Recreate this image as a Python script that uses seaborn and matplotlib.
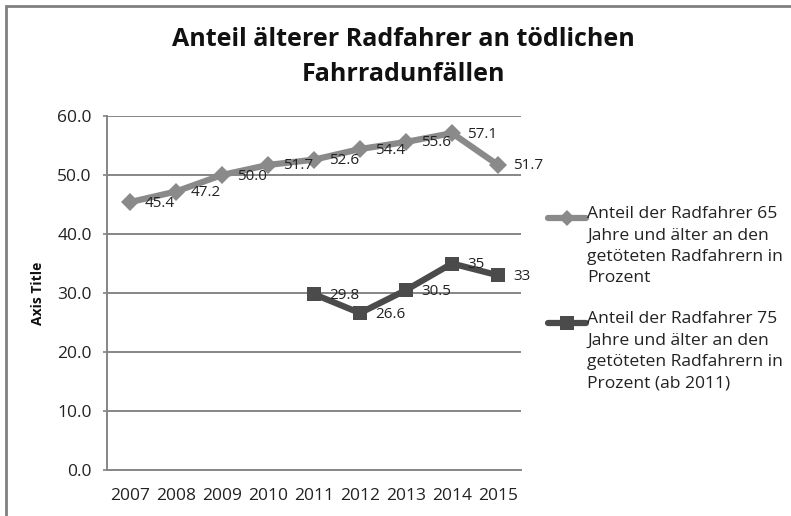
import matplotlib
matplotlib.use("Agg")
import matplotlib.pyplot as plt
from matplotlib.lines import Line2D
from matplotlib.patches import Rectangle
import seaborn as sns
import pandas as pd

# ---- data ----
years = [2007, 2008, 2009, 2010, 2011, 2012, 2013, 2014, 2015]
share_65 = [45.4, 47.2, 50.0, 51.7, 52.6, 54.4, 55.6, 57.1, 51.7]
labels_65 = ["45.4", "47.2", "50.0", "51.7", "52.6", "54.4", "55.6", "57.1", "51.7"]
years_75 = [2011, 2012, 2013, 2014, 2015]
share_75 = [29.8, 26.6, 30.5, 35.0, 33.0]
labels_75 = ["29.8", "26.6", "30.5", "35", "33"]
y_ticks = [0, 10, 20, 30, 40, 50, 60]
series_names = [
    "Anteil der Radfahrer 65\nJahre und älter an den\ngetöteten Radfahrern in\nProzent",
    "Anteil der Radfahrer 75\nJahre und älter an den\ngetöteten Radfahrern in\nProzent (ab 2011)",
]
title = "Anteil älterer Radfahrer an tödlichen\nFahrradunfällen"
y_label = "Axis Title"

df65 = pd.DataFrame({"year": years, "value": share_65})
df75 = pd.DataFrame({"year": years_75, "value": share_75})

sns.set_theme(style="white")
plt.rcParams["font.family"] = ["Open Sans", "DejaVu Sans"]

W, H = 791, 516
fig = plt.figure(figsize=(W / 100, H / 100), dpi=100)
ax = fig.add_axes([107 / W, 1 - 470 / H, (521 - 107) / W, (470 - 116) / H])

c65 = "#8a8a8a"
c75 = "#4b4b4b"
grid_c = "#868686"

for yv in y_ticks[1:]:
    ax.axhline(yv, color=grid_c, lw=1.4, zorder=0)

sns.lineplot(data=df65, x="year", y="value", ax=ax, color=c65, lw=4.5,
             marker="D", markersize=9.5, markeredgewidth=0, zorder=3)
sns.lineplot(data=df75, x="year", y="value", ax=ax, color=c75, lw=4.5,
             marker="s", markersize=10, markeredgewidth=0, zorder=4)

for xv, yv, t in zip(years, share_65, labels_65):
    ax.annotate(t, (xv, yv), xytext=(15, -1), textcoords="offset pixels",
                ha="left", va="center", fontsize=11, color="#222222",
                annotation_clip=False, zorder=5)
for xv, yv, t in zip(years_75, share_75, labels_75):
    ax.annotate(t, (xv, yv), xytext=(15, -1), textcoords="offset pixels",
                ha="left", va="center", fontsize=11, color="#222222",
                annotation_clip=False, zorder=5)

ax.set_xlim(years[0] - 0.5, years[-1] + 0.5)
ax.set_ylim(0, 60)
ax.set_xticks(years)
ax.set_xticklabels([str(y) for y in years], fontsize=12.5, color="#222222")
ax.set_yticks(y_ticks)
ax.set_yticklabels([f"{v:.1f}" for v in y_ticks], fontsize=12.5, color="#222222")
ax.tick_params(axis="x", length=0, pad=13)
ax.tick_params(axis="y", length=3, color=grid_c, pad=8, left=True)
ax.set_xlabel("")
ax.set_ylabel("")
for s in ["top", "right"]:
    ax.spines[s].set_visible(False)
for s in ["left", "bottom"]:
    ax.spines[s].set_color(grid_c)
    ax.spines[s].set_linewidth(1.4)

fig.text(38 / W, 1 - 293 / H, y_label, rotation=90, ha="center", va="center",
         fontsize=10, fontweight="bold", color="#111111")

fig.text(403 / W, 1 - 57 / H, title, ha="center", va="center", fontsize=18,
         fontweight="bold", color="#111111", linespacing=1.55)

# legend (manual, Excel-style: marker aligned to the first text line)
leg_specs = [(218, c65, "D", 8.5), (323, c75, "s", 9.5)]
for (ly, col, mk, ms), name in zip(leg_specs, series_names):
    yf = 1 - ly / H
    fig.add_artist(Line2D([548 / W, 586 / W], [yf, yf], color=col, lw=4.5,
                          transform=fig.transFigure))
    fig.add_artist(Line2D([567 / W], [yf], color=col, marker=mk, markersize=ms,
                          markeredgewidth=0, transform=fig.transFigure))
    fig.text(587 / W, 1 - (ly - 12) / H, name, ha="left", va="top",
             fontsize=12.6, color="#222222", linespacing=1.45)

# outer chart frame (only left and top visible in the crop)
fig.add_artist(Rectangle((6.5 / W, -0.5), 2, 0.5 + 1 - 5.5 / H, fill=False,
                         edgecolor="#808080", lw=2, transform=fig.transFigure))

fig.savefig("out.png", dpi=100, facecolor="white")
